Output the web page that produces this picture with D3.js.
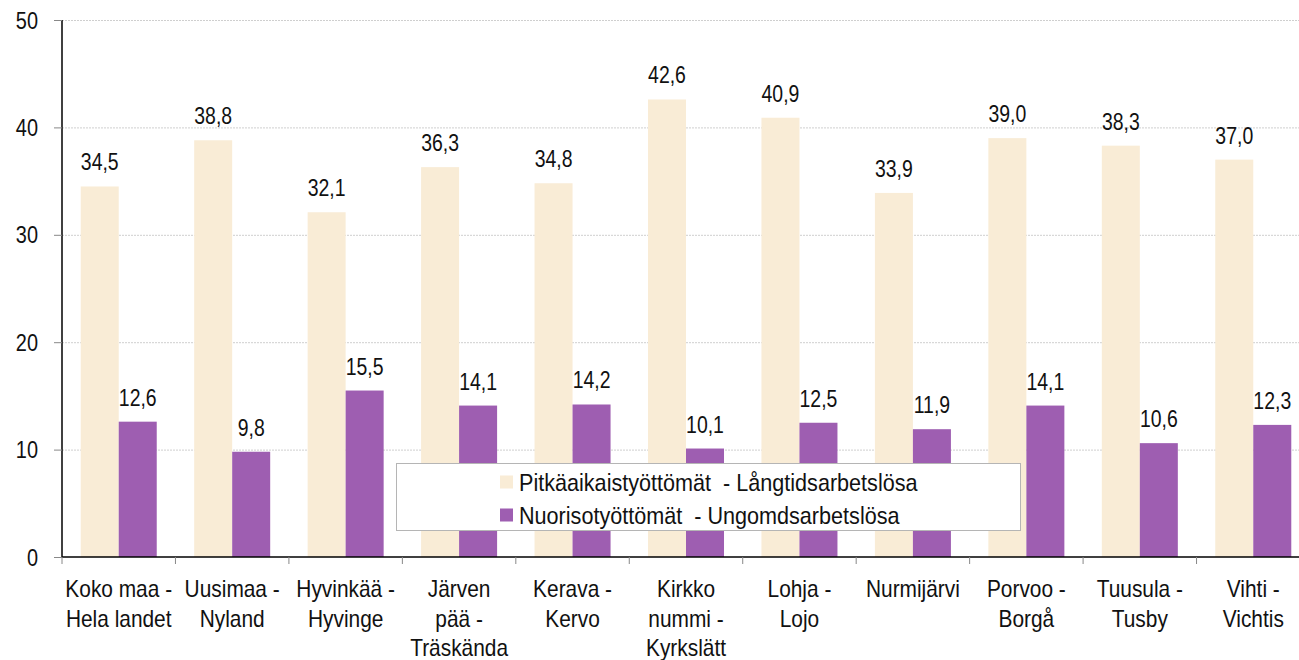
<!DOCTYPE html>
<html>
<head>
<meta charset="utf-8">
<script src="https://cdn.jsdelivr.net/npm/d3@7"></script>
<style>
  body { margin: 0; background: #fff; }
  svg text { font-family: "Liberation Sans", Arial, sans-serif; fill: #111; white-space: pre; }
</style>
</head>
<body>
<svg id="chart" width="1299" height="660"></svg>
<script>
// categories, split into label lines
const categories = [
  ["Koko maa -", "Hela landet"],
  ["Uusimaa -", "Nyland"],
  ["Hyvinkää -", "Hyvinge"],
  ["Järven", "pää -", "Träskända"],
  ["Kerava -", "Kervo"],
  ["Kirkko", "nummi -", "Kyrkslätt"],
  ["Lohja -", "Lojo"],
  ["Nurmijärvi"],
  ["Porvoo -", "Borgå"],
  ["Tuusula -", "Tusby"],
  ["Vihti -", "Vichtis"]
];
const longTerm = [34.5, 38.8, 32.1, 36.3, 34.8, 42.6, 40.9, 33.9, 39.0, 38.3, 37.0];
const youth = [12.6, 9.8, 15.5, 14.1, 14.2, 10.1, 12.5, 11.9, 14.1, 10.6, 12.3];
const seriesNames = ["Pitkäaikaistyöttömät  - Långtidsarbetslösa", "Nuorisotyöttömät  - Ungomdsarbetslösa"];
const seriesColors = ["#F9ECD6", "#9E5EB1"];
const yTicks = [0, 10, 20, 30, 40, 50];

(function() {
const svg = d3.select("#chart");
const mLeft = 62, mRight = 1310, mTop = 20, mBottom = 557;

// no narrow font installed: squeeze a regular one horizontally
function narrow(parent, x, y, str, anchor, sx) {
  return parent.append("text")
    .attr("transform", `translate(${x},${y}) scale(${sx},1)`)
    .attr("text-anchor", anchor)
    .attr("font-size", "24px")
    .text(str);
}

const x = d3.scaleBand()
  .domain(d3.range(categories.length))
  .range([mLeft, mRight])
  .paddingInner(0.33)
  .paddingOuter(0.165);

const xSub = d3.scaleBand()
  .domain([0, 1])
  .range([0, x.bandwidth()]);

const y = d3.scaleLinear().domain([0, 50]).range([mBottom, mTop]);

// gridlines
svg.append("g")
  .selectAll("line")
  .data(yTicks.filter(d => d > 0))
  .enter().append("line")
  .attr("x1", mLeft).attr("x2", 1299)
  .attr("y1", d => y(d) + 0.5).attr("y2", d => y(d) + 0.5)
  .attr("stroke", "#cfcfcf")
  .attr("stroke-dasharray", "2,1")
  .attr("stroke-width", 1);

// bars and value labels
const series = [longTerm, youth];
series.forEach((vals, s) => {
  svg.append("g")
    .selectAll("rect")
    .data(vals)
    .enter().append("rect")
    .attr("x", (d, i) => x(i) + xSub(s))
    .attr("y", d => y(d))
    .attr("width", xSub.bandwidth())
    .attr("height", d => y(0) - y(d))
    .attr("fill", seriesColors[s]);

  const lg = svg.append("g");
  vals.forEach((d, i) => {
    narrow(lg, x(i) + xSub(s) + xSub.bandwidth() / 2, y(d) - 16,
      d.toFixed(1).replace(".", ","), "middle", 0.81);
  });
});

// y axis
svg.append("line")
  .attr("x1", mLeft).attr("x2", mLeft)
  .attr("y1", mTop).attr("y2", mBottom)
  .attr("stroke", "#000").attr("stroke-width", 1.5);
const yg = svg.append("g");
yTicks.forEach(t => {
  yg.append("line")
    .attr("x1", mLeft - 8).attr("x2", mLeft)
    .attr("y1", y(t) + 0.5).attr("y2", y(t) + 0.5)
    .attr("stroke", "#888");
  narrow(yg, 38, y(t) + 8.5, String(t), "end", 0.83);
});

// x axis line and ticks at category boundaries
const step = x.step();
const boundaries = d3.range(categories.length + 1).map(i => x(0) - x.paddingOuter() * step + i * step);
svg.append("line")
  .attr("x1", mLeft).attr("x2", 1299)
  .attr("y1", mBottom).attr("y2", mBottom)
  .attr("stroke", "#000").attr("stroke-width", 1.5);
svg.append("g")
  .selectAll("line")
  .data(boundaries)
  .enter().append("line")
  .attr("x1", d => d).attr("x2", d => d)
  .attr("y1", mBottom).attr("y2", mBottom + 7)
  .attr("stroke", "#888");

// category labels
const cg = svg.append("g");
categories.forEach((lines, i) => {
  lines.forEach((line, j) => {
    narrow(cg, x(i) + x.bandwidth() / 2, 597 + j * 29.5, line, "middle", 0.87);
  });
});

// legend
const legend = svg.append("g");
legend.append("rect")
  .attr("x", 396.5).attr("y", 463.5)
  .attr("width", 624).attr("height", 67)
  .attr("fill", "#fff")
  .attr("stroke", "#b5b5b5");
seriesNames.forEach((name, s) => {
  const cy = 482 + s * 33;
  legend.append("rect")
    .attr("x", 500).attr("y", cy - 6.5)
    .attr("width", 13).attr("height", 13)
    .attr("fill", seriesColors[s]);
  narrow(legend, 519, cy + 9, name, "start", 0.9);
});
})();
</script>
</body>
</html>
